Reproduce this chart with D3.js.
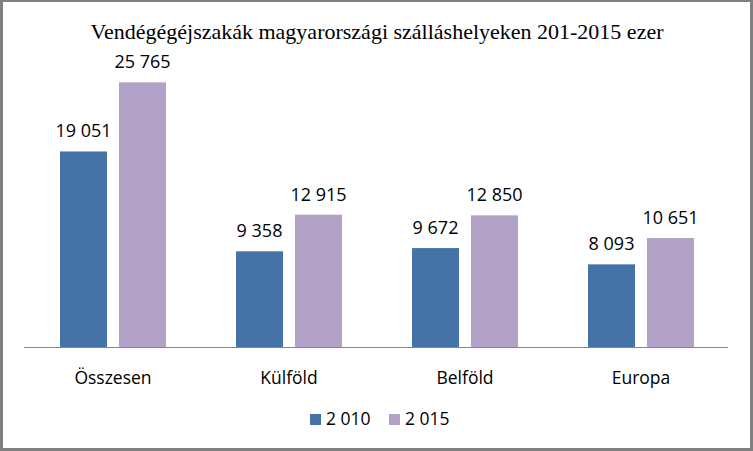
<!DOCTYPE html>
<html><head><meta charset="utf-8">
<script src="https://cdn.jsdelivr.net/npm/d3@7"></script>
<style>html,body{margin:0;padding:0;background:#fff;}svg{display:block;}</style>
</head><body>
<script>
const categories = ["Összesen", "Külföld", "Belföld", "Europa"];
const series = ["2 010", "2 015"];
const values2010 = [19051, 9358, 9672, 8093];
const values2015 = [25765, 12915, 12850, 10651];
const colors = ["#4572A7", "#B3A2C7"];
const title = "Vendégégéjszakák magyarországi szálláshelyeken 201-2015 ezer";

const W = 753, H = 451;
const fmt = v => d3.format(",")(v).replace(/,/g, " ");

const svg = d3.select("body").append("svg").attr("width", W).attr("height", H);
svg.append("rect").attr("x", 0).attr("y", 0).attr("width", W).attr("height", H).attr("fill", "#808080");
svg.append("rect").attr("x", 3).attr("y", 2).attr("width", W - 6).attr("height", H - 5).attr("fill", "#fff");

const x0 = d3.scaleBand().domain(categories).range([24, 728]).paddingInner(0).paddingOuter(0);
const y = d3.scaleLinear().domain([0, 30000]).range([347.7, 38.7]);
const barW = 47, gap = 12;

svg.append("text").attr("x", 377).attr("y", 39).attr("text-anchor", "middle")
  .attr("font-family", "'Liberation Serif', 'Times New Roman', serif").attr("font-size", 22)
  .attr("fill", "#000").text(title);

const data = [values2010, values2015];
data.forEach((vals, si) => {
  const g = svg.append("g");
  categories.forEach((c, i) => {
    const cx = x0(c) + x0.bandwidth() / 2 + 1;
    const bx = si === 0 ? cx - gap / 2 - barW : cx + gap / 2;
    g.append("rect").attr("x", bx).attr("y", y(vals[i])).attr("width", barW)
      .attr("height", y(0) - y(vals[i])).attr("fill", colors[si]);
    g.append("text").attr("x", bx + barW / 2).attr("y", y(vals[i]) - 14)
      .attr("text-anchor", "middle").attr("font-family", "'Open Sans', sans-serif")
      .attr("font-size", 18).attr("fill", "#000").text(fmt(vals[i]));
  });
});

svg.append("line").attr("x1", 24).attr("x2", 728).attr("y1", 347.5).attr("y2", 347.5)
  .attr("stroke", "#868686").attr("stroke-width", 1.2);

categories.forEach(c => {
  svg.append("text").attr("x", x0(c) + x0.bandwidth() / 2 + 1).attr("y", 384)
    .attr("text-anchor", "middle").attr("font-family", "'Open Sans', sans-serif")
    .attr("font-size", 17.5).attr("fill", "#000").text(c);
});

const legX = [310, 389];
series.forEach((s, i) => {
  svg.append("rect").attr("x", legX[i]).attr("y", 414).attr("width", 11).attr("height", 11).attr("fill", colors[i]);
  svg.append("text").attr("x", legX[i] + 16).attr("y", 425).attr("font-family", "'Open Sans', sans-serif")
    .attr("font-size", 17.5).attr("fill", "#000").text(s);
});
</script>
</body></html>
